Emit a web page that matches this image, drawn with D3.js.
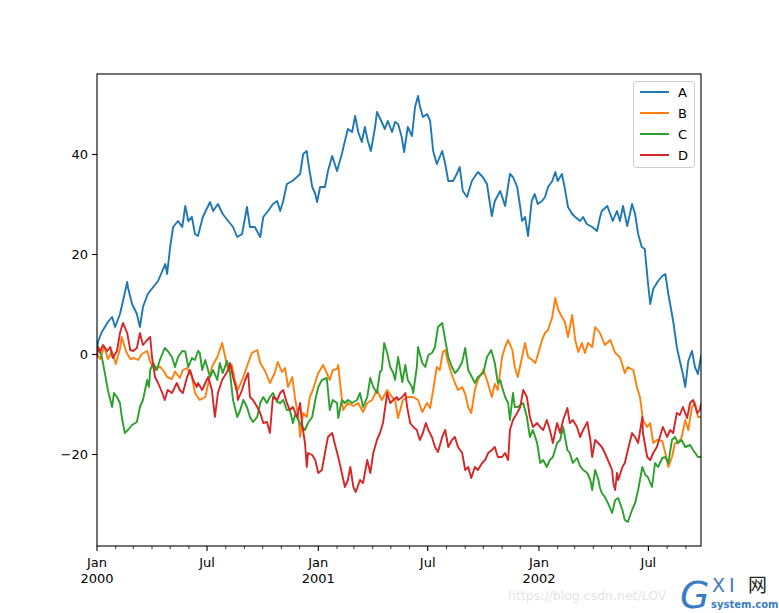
<!DOCTYPE html>
<html><head><meta charset="utf-8">
<script src="https://cdn.jsdelivr.net/npm/d3@7"></script>
<style>body{margin:0;background:#fff;}svg{display:block;font-family:"DejaVu Sans",sans-serif;}</style>
</head><body><svg id="c" width="779" height="613"></svg>
<script>
const startDate = "2000-01-01";
const endDay = 999;
const seriesNames = ["A","B","C","D"];
const colors = ["#1f77b4","#ff7f0e","#2ca02c","#d62728"];
const yTicks = [-20, 0, 20, 40];
const majorTickDates = ["2000-01-01","2000-07-01","2001-01-01","2001-07-01","2002-01-01","2002-07-01"];
const majorTickLabels = [["Jan","2000"],["Jul"],["Jan","2001"],["Jul"],["Jan","2002"],["Jul"]];

// [day offset from startDate, value]
const seriesA = [[0,1],[2,2.6],[8,4.4],[18,6.4],[25,7.4],[30,5.4],[38,8],[43,10.6],[50,14.4],[51,13.4],[58,10],[66,8],[71,5.4],[76,9.4],[84,12],[93,13.4],[101,14.6],[108,16.6],[113,18],[116,16],[121,21.4],[126,25.4],[134,26.6],[141,25.4],[146,29.6],[151,26.6],[157,27.4],[162,24],[167,23.6],[175,27.4],[187,30.4],[192,28.6],[200,30],[208,28],[217,26.6],[225,25.4],[232,23.4],[240,24],[248,29.4],[253,25.4],[261,25.4],[270,23.4],[275,27.4],[283,28.6],[291,30],[298,30.6],[303,28.6],[308,30.6],[314,34],[323,34.6],[327,35],[336,36],[341,40],[347,40.6],[349,38.6],[356,33.4],[361,32],[364,30.4],[369,33.4],[377,33.4],[382,36.6],[389,39.6],[397,36.6],[405,40],[410,42.6],[415,45],[422,44.4],[427,47.6],[432,44.4],[438,42.4],[443,45.4],[448,42.6],[453,40.6],[460,45.4],[463,48.4],[471,46.4],[476,45],[481,46.6],[488,44.4],[493,46.4],[498,46],[504,43.4],[508,40.4],[514,45.4],[521,43.6],[526,49.4],[531,51.6],[534,49.6],[539,47.4],[546,48],[551,46.6],[556,40.6],[562,38],[571,40.6],[576,38],[581,34.6],[589,34.6],[595,36],[600,37.4],[605,32.6],[612,31.4],[620,34.6],[630,36.4],[638,35.4],[645,34],[650,30],[653,27.6],[658,30.6],[667,32.6],[675,29.6],[683,36],[688,35.4],[695,33.4],[700,29.4],[703,26.6],[708,27.4],[713,23.6],[719,30.6],[724,32],[729,30],[736,30.6],[741,31.4],[746,33.4],[753,34.6],[758,36.4],[762,34.6],[769,36],[774,33],[779,29.4],[786,28],[791,27.4],[799,26.6],[804,27.4],[810,26],[819,25.4],[827,24.6],[832,27.4],[835,28.6],[844,29.6],[849,28],[853,26.6],[860,28.6],[865,26.6],[870,29.6],[877,25.6],[885,30],[890,28],[895,24],[901,21.4],[906,21],[911,14.6],[915,10],[920,13],[928,14.6],[935,15.6],[940,16],[945,12],[953,6.6],[959,1.4],[964,-1.4],[969,-4],[973,-6.6],[978,-1.4],[984,0.6],[989,-2.6],[994,-4],[999,-0.4]];

const seriesB = [[0,0],[5,-1],[12,1.5],[18,-1],[25,0.5],[31,-2],[38,1],[41,3.4],[48,0.5],[55,-1],[61,-0.8],[68,-1.2],[74,0],[83,0.6],[88,-1.6],[96,-3.2],[104,-2.5],[111,-3.5],[116,-4.6],[124,-5],[129,-3.5],[137,-4.8],[142,-3.2],[149,-2.8],[157,-4.5],[162,-7.8],[170,-9.2],[179,-8.6],[190,-2.6],[199,-0.6],[207,2.2],[212,-0.6],[217,-3.2],[223,-2.2],[228,-5.2],[233,-7.2],[242,-4.6],[250,-1.8],[256,0.2],[265,0.8],[270,-1.8],[278,-3.4],[286,-5.8],[294,-3.8],[299,-1.6],[306,-3.6],[311,-2.8],[316,-6.6],[323,-4.6],[328,-9.2],[333,-12.6],[336,-16.6],[341,-11.8],[347,-12.6],[352,-8.6],[357,-7.2],[366,-3.8],[374,-2.2],[380,-3.8],[385,-5.2],[390,-3.2],[397,-3],[399,-2.2],[402,-5.8],[407,-11.2],[415,-9.8],[424,-10.4],[432,-9.8],[440,-11.6],[447,-9.8],[455,-9.2],[463,-7.2],[471,-9.2],[480,-7.2],[488,-8.6],[493,-9.2],[498,-12.8],[506,-9.2],[514,-8.6],[523,-8.6],[531,-9.2],[538,-11.6],[546,-9.8],[551,-10.8],[556,-7.2],[562,-2.6],[567,-3.2],[572,0.4],[576,0.8],[581,-1.8],[587,-4.2],[592,-5.8],[597,-7.2],[604,-6.6],[609,-8],[614,-10.6],[619,-11.8],[625,-7.2],[630,-5.2],[639,-3.2],[645,-5.2],[653,-8.6],[658,-6],[663,-7.2],[670,-0.6],[675,1.4],[680,2.8],[687,0.8],[691,-2.6],[696,-4.6],[703,-0.6],[708,2.2],[713,-0.6],[720,-1.2],[725,-1.8],[730,0.2],[736,2.8],[741,4.2],[746,4.8],[753,7.4],[758,11.2],[763,8.8],[769,7.4],[774,6.4],[779,3.4],[786,7.8],[791,2.8],[796,0.4],[802,2.2],[807,0.2],[812,2.2],[819,1.4],[824,5.4],[832,4.2],[840,1.8],[849,2.8],[857,0.2],[865,-0.6],[873,-3.8],[878,-2.6],[887,-3.2],[893,-6.6],[898,-8.6],[903,-13.2],[910,-14.6],[915,-13.8],[920,-17.8],[926,-17.2],[935,-17.4],[940,-19.8],[945,-22.6],[951,-20.6],[956,-17.8],[961,-17.8],[967,-16.6],[973,-13.2],[978,-15.2],[984,-10.6],[989,-9.8],[994,-12.6],[999,-12.6]];

const seriesC = [[0,0],[2,1.4],[8,-0.6],[13,-3.8],[18,-7.2],[25,-10.6],[28,-7.8],[33,-8.6],[38,-9.8],[41,-12.6],[46,-15.8],[51,-15.2],[58,-14.2],[66,-13.6],[71,-10.6],[76,-9.2],[83,-5.2],[86,-6.6],[88,-3.2],[93,-1.8],[99,-3.2],[104,-1.2],[112,1.2],[117,0.6],[124,-0.6],[129,-2.6],[134,-0.6],[141,0.6],[146,0.5],[151,-2.6],[157,-0.8],[162,-1.2],[167,0.6],[170,0.2],[174,-3.2],[179,-1.2],[187,-4.6],[192,-3.2],[199,-5.2],[203,-1.8],[208,-3.8],[215,-1.4],[220,-3.8],[225,-9.2],[232,-12.6],[237,-11.2],[242,-9.2],[248,-10.6],[253,-12.6],[258,-13.6],[265,-12.6],[270,-9.8],[275,-8.6],[281,-9.8],[286,-8.6],[291,-7.8],[298,-9.6],[303,-9.8],[308,-9.2],[314,-11.2],[319,-11.2],[324,-13.8],[328,-12],[333,-13.2],[339,-14.6],[344,-15.2],[349,-13.8],[356,-12.6],[361,-9.2],[366,-6.6],[372,-5.2],[380,-4.8],[382,-7.2],[385,-11.2],[390,-9.2],[397,-9.8],[399,-12.8],[405,-9.2],[410,-9.8],[415,-9.2],[422,-9.8],[430,-9.2],[435,-7.8],[440,-10.6],[447,-8.6],[452,-4.8],[457,-6.6],[463,-7.8],[468,-3.6],[471,-3.2],[475,2.2],[480,0.2],[485,-2.6],[490,-3.8],[493,-5.2],[498,-0.6],[505,-5.6],[510,-2.2],[514,-5.2],[521,-6.6],[523,-7.8],[529,-2.6],[531,1.4],[538,-1.8],[543,-2.6],[548,-0.2],[554,0.2],[559,1.4],[564,5.4],[571,6.2],[576,2.8],[581,-0.6],[587,-2.6],[592,-3.8],[597,-3.2],[604,-1.6],[609,1.2],[614,-3.2],[620,-4.6],[625,-5.8],[630,-4.6],[639,-3.8],[645,-0.6],[652,0.8],[658,-1.8],[663,-5.8],[667,-5.2],[670,-6.6],[675,-8.6],[680,-9.8],[683,-13.2],[688,-7.8],[691,-10.6],[696,-10.6],[705,-9.8],[711,-12.6],[716,-16.6],[721,-15.2],[728,-17.8],[733,-21.8],[738,-21.2],[744,-22.6],[749,-21.2],[754,-20.6],[761,-17.8],[766,-17.2],[771,-14.6],[778,-19.2],[782,-19.8],[787,-21.8],[794,-20.8],[799,-22.4],[804,-23.2],[811,-23.8],[816,-25.2],[819,-27.2],[824,-23.2],[829,-25],[832,-26.8],[835,-27.8],[840,-28.6],[845,-29.8],[852,-31.8],[857,-29.2],[862,-28.8],[869,-31.2],[873,-33.2],[878,-33.6],[885,-31.2],[890,-29.8],[895,-27.2],[902,-22.6],[907,-24.2],[911,-24.6],[918,-26.6],[923,-21.8],[928,-22.6],[935,-20.8],[940,-20.6],[945,-21.8],[951,-17.2],[956,-16.6],[961,-17.8],[967,-17.2],[973,-18.6],[981,-18.2],[986,-19.2],[994,-20.6],[999,-20.6]];

const seriesD = [[0,-0.5],[2,1.4],[5,0.4],[10,1.8],[17,0.6],[22,1.4],[26,-0.8],[33,0.6],[38,4.2],[43,6.2],[50,4.2],[55,0.8],[60,0.6],[66,1.2],[71,4.2],[76,1.8],[83,2.8],[88,3.4],[91,-0.6],[96,-4.6],[101,-5.8],[108,-7.8],[112,-9.2],[117,-7.2],[124,-7.8],[132,-5.8],[137,-7.2],[142,-7.8],[149,-4.6],[154,-3.2],[159,-5.2],[165,-6.6],[167,-5.8],[174,-7.2],[179,-5.8],[184,-4.6],[190,-7.2],[195,-12.6],[200,-7.8],[207,-5.2],[212,-4.2],[217,-3.2],[220,-1.8],[225,-4.6],[232,-7.8],[233,-9.2],[240,-7.2],[245,-5.2],[250,-3.8],[253,-8.6],[258,-9.2],[265,-10.6],[270,-11.8],[275,-13.8],[281,-13.6],[286,-15.8],[291,-8.6],[298,-9.2],[303,-7.8],[308,-7.2],[314,-9.8],[319,-11.2],[324,-10.6],[331,-12.6],[336,-9.8],[339,-13.8],[344,-17.8],[347,-22.6],[349,-19.8],[356,-20.2],[361,-21.2],[366,-23.8],[372,-23.2],[377,-19.8],[382,-16.6],[389,-15.8],[393,-17.8],[399,-20.6],[405,-23.8],[410,-26.6],[415,-25.2],[419,-22.6],[424,-26.6],[428,-27.6],[435,-25.2],[440,-25.8],[447,-21.2],[452,-23.8],[457,-19.8],[463,-17.2],[468,-15.8],[473,-13.8],[480,-7.8],[485,-9.8],[490,-9.2],[496,-8.6],[498,-9.2],[505,-8.6],[510,-7.8],[513,-10.6],[518,-13.8],[523,-14.6],[529,-15.2],[534,-17.2],[539,-15.8],[544,-13.8],[548,-15.2],[554,-16.6],[559,-18.6],[564,-19.6],[571,-16.6],[576,-15.2],[581,-18.6],[587,-17.2],[592,-16.6],[597,-18.6],[604,-19.8],[609,-23.2],[614,-22.6],[619,-24.8],[625,-22.6],[630,-23.2],[637,-21.8],[642,-21.2],[647,-19.8],[653,-19.2],[658,-18.6],[663,-20.6],[670,-20.6],[675,-19.8],[680,-21.2],[683,-15.2],[688,-13.2],[695,-11.8],[700,-10.6],[705,-7.2],[711,-8.6],[716,-12.6],[721,-14.6],[728,-13.8],[733,-14.6],[738,-15.2],[744,-13.2],[749,-15.2],[754,-17.8],[761,-13.8],[766,-15.8],[771,-13.2],[778,-10.8],[782,-13.8],[787,-13.2],[794,-14.6],[799,-16.6],[804,-15.2],[811,-13.6],[816,-17.2],[819,-20.6],[824,-17.2],[829,-17.8],[835,-18.6],[840,-19.8],[845,-21.2],[852,-23.2],[854,-25.8],[857,-27.2],[860,-23.8],[862,-25.2],[869,-22.6],[873,-21.8],[878,-19.2],[885,-15.8],[890,-16.6],[895,-17.8],[902,-12.6],[903,-15.8],[910,-20.6],[915,-21.2],[920,-19.8],[926,-18.6],[931,-16.6],[936,-14.6],[943,-16.6],[948,-15.2],[953,-15.8],[959,-11.8],[964,-12.2],[969,-10.6],[976,-12.8],[981,-9.8],[986,-9.2],[993,-11.8],[997,-11.2],[999,-10]];

const allSeries = [seriesA, seriesB, seriesC, seriesD];

const svg = d3.select("#c");
const L = 97, R = 701, T = 74, B = 546;
const t0 = new Date(startDate + "T00:00:00Z");
const dayToDate = d => new Date(t0.getTime() + d * 86400000);
const x = d3.scaleUtc().domain([t0, dayToDate(endDay)]).range([L, R]);
const y = d3.scaleLinear().domain([-38.4, 56]).range([B, T]);

svg.append("defs").append("clipPath").attr("id","clip")
  .append("rect").attr("x",L).attr("y",T).attr("width",R-L).attr("height",B-T);

const line = d3.line().x(p => x(dayToDate(p[0]))).y(p => y(p[1]));
const g = svg.append("g").attr("clip-path","url(#clip)");
allSeries.forEach((s,i) => {
  g.append("path").datum(s).attr("d", line).attr("fill","none")
    .attr("stroke", colors[i]).attr("stroke-width", 1.9).attr("stroke-linejoin","round").attr("stroke-linecap","square");
});

// frame
svg.append("rect").attr("x",L).attr("y",T).attr("width",R-L).attr("height",B-T)
  .attr("fill","none").attr("stroke","#000").attr("stroke-width",1.1);

// y axis
const fmt = v => (v < 0 ? "\u2212" + Math.abs(v) : String(v));
const yAxis = d3.axisLeft(y).tickValues(yTicks).tickSize(5).tickPadding(4).tickFormat(fmt);
const ya = svg.append("g").attr("transform",`translate(${L},0)`).call(yAxis);
ya.select(".domain").remove();
ya.selectAll("text").attr("font-size",13).attr("font-family","DejaVu Sans").attr("fill","#000");
ya.selectAll("line").attr("stroke","#000").attr("stroke-width",1.1);

// x axis: major ticks
const majors = majorTickDates.map(s => new Date(s + "T00:00:00Z"));
const xa = svg.append("g").attr("transform",`translate(0,${B})`);
xa.selectAll("line.major").data(majors).join("line").attr("class","major")
  .attr("x1", d => x(d)).attr("x2", d => x(d)).attr("y1",0).attr("y2",5)
  .attr("stroke","#000").attr("stroke-width",1.1);
// minor monthly ticks
const minors = d3.utcMonth.range(t0, dayToDate(endDay)).filter(d => !majors.some(m => +m === +d));
xa.selectAll("line.minor").data(minors).join("line").attr("class","minor")
  .attr("x1", d => x(d)).attr("x2", d => x(d)).attr("y1",0).attr("y2",3)
  .attr("stroke","#000").attr("stroke-width",0.8);
majors.forEach((d,i) => {
  const t = xa.append("text").attr("x", x(d)).attr("y", 21).attr("text-anchor","middle")
    .attr("font-size",13).attr("font-family","DejaVu Sans").attr("fill","#000");
  majorTickLabels[i].forEach((s,j) => t.append("tspan").attr("x", x(d)).attr("dy", j === 0 ? 0 : 16).text(s));
});

// legend
const lg = svg.append("g");
lg.append("rect").attr("x",633.5).attr("y",81.5).attr("width",61).attr("height",86).attr("rx",3)
  .attr("fill","#fff").attr("fill-opacity",0.8).attr("stroke","#cccccc").attr("stroke-width",1);
seriesNames.forEach((n,i) => {
  const yy = 92 + i*21;
  lg.append("line").attr("x1",640).attr("x2",669).attr("y1",yy).attr("y2",yy)
    .attr("stroke",colors[i]).attr("stroke-width",2);
  lg.append("text").attr("x",678).attr("y",yy+5).attr("font-size",13).attr("font-family","DejaVu Sans").text(n);
});

// watermark
svg.append("text").attr("x",508).attr("y",600).attr("font-size",12.5).attr("font-family","DejaVu Sans")
  .attr("fill","#e4e4e4").text("https://blog.csdn.net/LOV");
svg.append("text").attr("x",680).attr("y",608).attr("font-size",38).attr("font-family","DejaVu Sans")
  .attr("fill","#3a7cc4").attr("font-style","italic").text("G");
svg.append("text").attr("x",712).attr("y",592).attr("font-size",19).attr("font-family","DejaVu Sans")
  .attr("fill","#3a7cc4").attr("letter-spacing",4).text("XI");
svg.append("text").attr("x",748).attr("y",592).attr("font-size",19).attr("font-family","Noto Sans CJK SC")
  .attr("fill","#222").text("网");
svg.append("text").attr("x",711).attr("y",608).attr("font-size",10).attr("font-family","DejaVu Sans")
  .attr("fill","#3a7cc4").attr("font-weight","bold").text("system.com");
</script></body></html>
